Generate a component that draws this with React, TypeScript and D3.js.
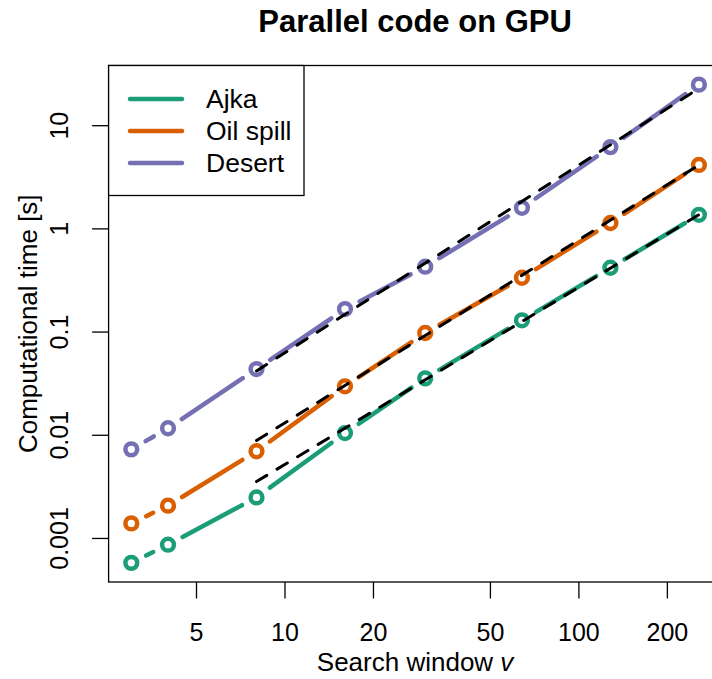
import React from "react";
import * as d3 from "d3";

const windows = [3, 4, 8, 16, 30, 64, 128, 256];
const ajka = [0.00058, 0.00087, 0.0025, 0.0105, 0.0356, 0.13, 0.42, 1.37];
const oilSpill = [0.0014, 0.00208, 0.007, 0.0298, 0.098, 0.336, 1.14, 4.17];
const desert = [0.0073, 0.0117, 0.0438, 0.167, 0.43, 1.6, 6.2, 25];

const fitWindows = [8, 256];
const fitAjka = [0.00356, 1.37];
const fitOil = [0.0089, 4.15];
const fitDesert = [0.042, 23];

const seriesNames = ["Ajka", "Oil spill", "Desert"];
const colors = ["#1B9E77", "#D95F02", "#7570B3"];

const xTicks = [5, 10, 20, 50, 100, 200];
const yTicks = [0.001, 0.01, 0.1, 1, 10];
const yTickLabels = ["0.001", "0.01", "0.1", "1", "10"];

const W = 712;
const H = 679;
const left = 108.6, right = 721.6, top = 65.5, bottom = 582;
const FONT = "'Liberation Sans', Arial, Helvetica, sans-serif";

function paddedLogDomain(vals: number[]): [number, number] {
  const lo = Math.log10(d3.min(vals)!);
  const hi = Math.log10(d3.max(vals)!);
  const pad = 0.04 * (hi - lo);
  return [Math.pow(10, lo - pad), Math.pow(10, hi + pad)];
}

export default function App() {
  const series = [ajka, oilSpill, desert];
  const fits = [fitAjka, fitOil, fitDesert];
  const x = d3.scaleLog().domain(paddedLogDomain(windows)).range([left, right]);
  const y = d3.scaleLog().domain(paddedLogDomain([...ajka, ...oilSpill, ...desert])).range([bottom, top]);

  const gap = 16.5;
  const segs = (vals: number[]) => {
    const out: { x1: number; y1: number; x2: number; y2: number }[] = [];
    for (let i = 0; i < vals.length - 1; i++) {
      const ax = x(windows[i]), ay = y(vals[i]);
      const bx = x(windows[i + 1]), by = y(vals[i + 1]);
      const dx = bx - ax, dy = by - ay;
      const len = Math.hypot(dx, dy);
      if (len <= 2 * gap) continue;
      const ux = dx / len, uy = dy / len;
      out.push({ x1: ax + ux * gap, y1: ay + uy * gap, x2: bx - ux * gap, y2: by - uy * gap });
    }
    return out;
  };
  const fitLine = d3.line<number>().x((_, i) => x(fitWindows[i])).y((d) => y(d));

  const legendRows = [99, 131, 163];

  return (
    <svg width={W} height={H} style={{ position: "absolute", left: 0, top: 0, background: "#fff" }} fontFamily={FONT}>
      <rect x={0} y={0} width={W} height={H} fill="#fff" />
      {series.map((vals, si) => (
        <g key={"s" + si} stroke={colors[si]} strokeWidth={4.5} strokeLinecap="round">
          {segs(vals).map((s, i) => (
            <line key={i} x1={s.x1} y1={s.y1} x2={s.x2} y2={s.y2} />
          ))}
        </g>
      ))}
      {series.map((vals, si) => (
        <g key={"p" + si} stroke={colors[si]} strokeWidth={4.5} fill="none">
          {vals.map((v, i) => (
            <circle key={i} cx={x(windows[i])} cy={y(v)} r={5.9} />
          ))}
        </g>
      ))}
      {fits.map((f, si) => (
        <path key={"f" + si} d={fitLine(f)!} fill="none" stroke="#000" strokeWidth={3}
          strokeDasharray="12 12" strokeLinecap="round" />
      ))}
      <rect x={left} y={top} width={right - left} height={bottom - top} fill="none" stroke="#000" strokeWidth={1.3} />
      {xTicks.map((t) => (
        <g key={"xt" + t}>
          <line x1={x(t)} x2={x(t)} y1={bottom} y2={bottom + 16.5} stroke="#000" strokeWidth={1.3} />
          <text x={x(t)} y={640.5} textAnchor="middle" fontSize={25}>{t}</text>
        </g>
      ))}
      <text x={(left + right) / 2} y={670.5} textAnchor="middle" fontSize={26}>
        Search window <tspan fontStyle="italic">v</tspan>
      </text>
      {yTicks.map((t, i) => (
        <g key={"yt" + t}>
          <line x1={left} x2={left - 16.5} y1={y(t)} y2={y(t)} stroke="#000" strokeWidth={1.3} />
          <text transform={`translate(68,${y(t)}) rotate(-90)`} textAnchor="middle" fontSize={25}>{yTickLabels[i]}</text>
        </g>
      ))}
      <text transform={`translate(37,${(top + bottom) / 2}) rotate(-90)`} textAnchor="middle" fontSize={26}>
        Computational time [s]
      </text>
      <text x={(left + right) / 2} y={32} textAnchor="middle" fontSize={31} fontWeight="bold">Parallel code on GPU</text>
      <rect x={left} y={top} width={304 - left} height={195.5 - top} fill="#fff" stroke="#000" strokeWidth={1.3} />
      {seriesNames.map((n, i) => (
        <g key={"lg" + i}>
          <line x1={130} x2={182} y1={legendRows[i]} y2={legendRows[i]} stroke={colors[i]} strokeWidth={4.5} strokeLinecap="round" />
          <text x={206} y={legendRows[i] + 9} fontSize={26.5}>{n}</text>
        </g>
      ))}
    </svg>
  );
}
